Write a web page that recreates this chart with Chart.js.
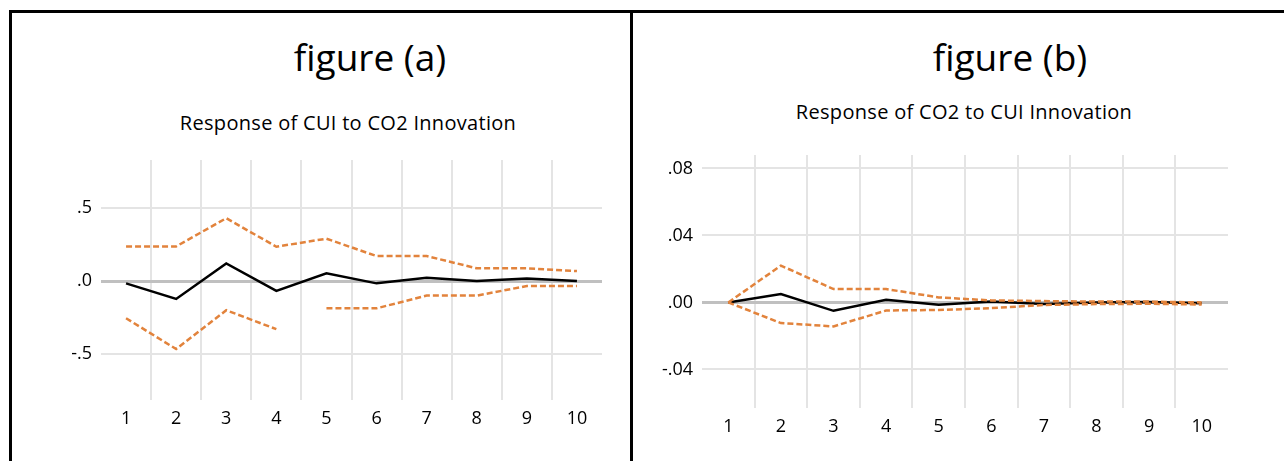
<!DOCTYPE html>
<html>
<head>
<meta charset="utf-8">
<script src="https://cdn.jsdelivr.net/npm/chart.js@4"></script>
<style>
  body { margin: 0; width: 1284px; height: 461px; background: #fff; position: relative; overflow: hidden; font-family: "Open Sans", sans-serif; }
  .line { position: absolute; background: #000; }
  .txt { position: absolute; text-align: center; color: #000; white-space: nowrap; }
  .big { font-size: 37px; line-height: 37px; width: 300px; }
  .sub { font-size: 20px; line-height: 20px; width: 420px; letter-spacing: 0.3px; }
  canvas { position: absolute; }
</style>
</head>
<body>
<div class="line" style="left:9px; top:10px; width:1275px; height:3px;"></div>
<div class="line" style="left:9px; top:10px; width:3px; height:451px;"></div>
<div class="line" style="left:630px; top:10px; width:3px; height:451px;"></div>

<div class="txt big" style="left:220px; top:38px;">figure (a)</div>
<div class="txt sub" style="left:138px; top:113px;">Response of CUI to CO2 Innovation</div>
<div class="txt big" style="left:860px; top:38px;">figure (b)</div>
<div class="txt sub" style="left:754px; top:102px;">Response of CO2 to CUI Innovation</div>

<canvas id="chartA" width="618" height="448" style="left:12px; top:13px;"></canvas>
<canvas id="chartB" width="651" height="448" style="left:633px; top:13px;"></canvas>

<script>
// Periods
const periods = ['1', '2', '3', '4', '5', '6', '7', '8', '9', '10'];

// figure (a): response of CUI to CO2 innovation
const respA  = [-0.016, -0.123, 0.120, -0.068, 0.053, -0.016, 0.023, 0.000, 0.018, 0.000];
const upperA = [0.237, 0.237, 0.430, 0.235, 0.290, 0.171, 0.171, 0.087, 0.087, 0.068];
const lowerA = [-0.255, -0.466, -0.200, -0.330, -0.187, -0.187, -0.100, -0.100, -0.034, -0.034];
const yTicksA = [-0.5, 0, 0.5];
const yLabelsA = ['-.5', '.0', '.5'];

// figure (b): response of CO2 to CUI innovation
const respB  = [0.0000, 0.0050, -0.0050, 0.0016, -0.0014, 0.0005, -0.0010, 0.0000, 0.0003, -0.0005];
const upperB = [0.0000, 0.0220, 0.0080, 0.0080, 0.0030, 0.0012, 0.0008, 0.0005, 0.0005, 0.0000];
const lowerB = [0.0000, -0.0123, -0.0143, -0.0048, -0.0045, -0.0034, -0.0015, -0.0010, -0.0008, -0.0012];
const yTicksB = [-0.04, 0, 0.04, 0.08];
const yLabelsB = ['-.04', '.00', '.04', '.08'];

const ORANGE = '#E2833C';
const GRID = '#e4e4e4';

function makeChart(el, resp, upper, lower, yMin, yMax, yTicks, yLabels, pad, yWidth, xHeight, gapAfter) {
    const band = (data, hide) => ({
        data: data,
        borderColor: ORANGE,
        borderWidth: 2.5,
        borderDash: [6, 3],
        pointRadius: 0,
        tension: 0,
        order: 0,
        segment: hide == null ? {} : {
            borderColor: ctx => ctx.p0DataIndex === hide ? 'transparent' : ORANGE
        }
    });
    return new Chart(el, {
        type: 'line',
        data: {
            labels: periods,
            datasets: [
                band(upper, null),
                band(lower, gapAfter),
                { data: resp, borderColor: '#000', borderWidth: 2.5, pointRadius: 0, tension: 0, order: 1 }
            ]
        },
        options: {
            responsive: false,
            animation: false,
            devicePixelRatio: 1,
            layout: { padding: pad },
            plugins: { legend: { display: false }, tooltip: { enabled: false } },
            scales: {
                x: {
                    offset: true,
                    border: { display: false },
                    grid: {
                        offset: true,
                        drawTicks: false,
                        lineWidth: 2,
                        color: ctx => (ctx.type !== 'tick' || ctx.index === 0) ? 'transparent' : GRID
                    },
                    ticks: { padding: 8, color: '#000', font: { family: 'Open Sans', size: 18 } },
                    afterFit: s => { s.height = xHeight; }
                },
                y: {
                    min: yMin,
                    max: yMax,
                    border: { display: false },
                    afterBuildTicks: s => { s.ticks = yTicks.map(v => ({ value: v })); },
                    afterFit: s => { s.width = yWidth; },
                    grid: {
                        drawTicks: false,
                        lineWidth: ctx => ctx.tick && ctx.tick.value === 0 ? 3 : 2,
                        color: ctx => ctx.tick && ctx.tick.value === 0 ? '#c0c0c0' : GRID
                    },
                    ticks: {
                        padding: 9,
                        color: '#000',
                        font: { family: 'Open Sans', size: 18 },
                        callback: (v, i) => yLabels[i]
                    }
                }
            }
        }
    });
}

makeChart(document.getElementById('chartA'), respA, upperA, lowerA, -0.815, 0.829,
    yTicksA, yLabelsA, { top: 147, right: 28, left: 0, bottom: 0 }, 89, 61, 3);
makeChart(document.getElementById('chartB'), respB, upperB, lowerB, -0.063, 0.088,
    yTicksB, yLabelsB, { top: 142, right: 56, left: 0, bottom: 0 }, 69, 53, null);
</script>
</body>
</html>
